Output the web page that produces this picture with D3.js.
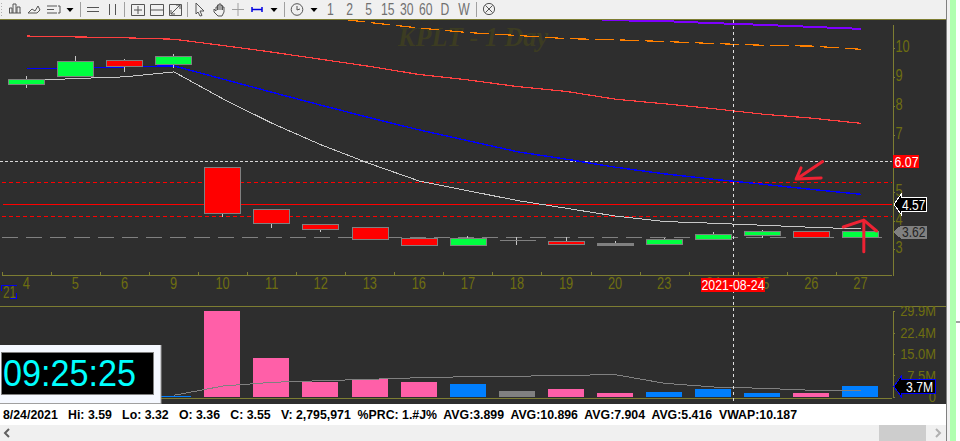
<!DOCTYPE html>
<html><head><meta charset="utf-8">
<script src="https://cdn.jsdelivr.net/npm/d3@7/dist/d3.min.js"></script>
<style>
html,body{margin:0;padding:0;background:#fff;overflow:hidden}
svg{display:block}
text{font-family:"Liberation Sans",Arial,sans-serif}
</style></head><body>
<svg id="c" width="960" height="441"></svg>
<script>
const categories=["4","5","6","9","10","11","12","13","16","17","18","19","20","23","24","25","26","27"];
const opens =[8.75,9.05,9.59,9.44,5.87,4.40,3.87,3.79,3.39,3.14,3.34,3.28,3.21,3.20,3.36,3.51,3.63,3.42];
const closes=[8.93,9.56,9.37,9.73,4.26,3.91,3.72,3.35,3.16,3.41,3.34,3.20,3.16,3.35,3.55,3.63,3.42,3.63];
const highs =[9.04,9.74,9.63,9.81,5.87,4.40,3.87,3.79,3.41,3.47,3.43,3.44,3.28,3.41,3.59,3.69,3.63,3.63];
const lows  =[8.63,9.05,9.19,9.33,4.14,3.76,3.62,3.35,3.12,3.14,3.15,3.20,3.12,3.20,3.32,3.41,3.42,3.42];
const candleKinds=["up","up","down","up","down","down","down","down","down","up","flat","down","flat","up","up","up","down","up"];
const maRed   =[10.43,10.40,10.37,10.32,10.10,9.87,9.62,9.37,9.09,8.90,8.67,8.50,8.23,8.07,7.90,7.71,7.57,7.39];
const maBlue  =[9.31,9.31,9.36,9.39,8.93,8.47,8.02,7.58,7.16,6.78,6.40,6.14,5.86,5.63,5.44,5.27,5.09,4.92];
const maWhite =[8.88,8.95,9.01,9.18,8.24,7.39,6.64,5.98,5.38,5.04,4.70,4.43,4.16,3.97,3.91,3.84,3.77,3.71];
const maOrangeCats=["12","13","16","17","18","19","20","23","24","25","26","27"];
const maOrange=[11.10,10.90,10.71,10.55,10.45,10.34,10.30,10.24,10.17,10.11,10.08,9.97];
const maPurpleCats=["19","20","23","24","25","26","27"];
const maPurple=[11.08,10.98,10.95,10.88,10.82,10.75,10.68];
const priceTicks=[10,9,8,7,5,4,3];
const volumes=[0.3,0.3,0.3,0.3,29.9,13.56,5.2,6.15,5.2,4.5,2.1,2.8,1.4,1.74,2.8,1.4,1.4,3.7];
const volKinds=["up","up","up","up","down","down","down","down","down","up","flat","down","down","up","up","up","down","up"];
const volMaCats=["9","10","11","12","13","16","17","18","19","20","23","24","25","26","27"];
const volMa=[0.6,3.82,5.11,5.67,6.15,6.71,7.06,7.2,7.55,7.75,4.76,3.48,3.03,2.33,2.33];
const volTicks=[0,7.5,15,22.4,29.9];
const volTickLabels=["0","7.5M","15.0M","22.4M","29.9M"];
const lineHigh=6.07, lineMid=4.57, bandUpper=5.34, bandLower=4.15, lineGray=3.42, lastPrice=3.62, lastVol=3.7;
const arrowOneShaft=[[16.22,6.06],[15.72,5.49]];
const arrowOneHead=[[15.78,5.84],[15.68,5.45],[16.19,5.49]];
const arrowTwoShaft=[[17.06,2.92],[17.06,3.99]];
const arrowTwoHead=[[16.64,3.78],[17.06,4.02],[17.32,3.64]];
const timeframes=["1","2","5","15","30","60","D","W"];
const statusText="8/24/2021   Hi: 3.59   Lo: 3.32   O: 3.36   C: 3.55   V: 2,795,971  %PRC: 1.#J%  AVG:3.899  AVG:10.896  AVG:7.904  AVG:5.416  VWAP:10.187";

const olive="#6e6e10", bg="#2e2e2e", axisCol="#7d7d32";
const svg=d3.select("#c");
const x=d3.scaleBand().domain(categories).range([2.3,885.4]);
const cx=c=>x(c)+x.bandwidth()/2;
const xi=d3.scaleLinear().domain([0,1]).range([cx(categories[0]),cx(categories[1])]);
const y=d3.scaleLinear().domain([2.09,10.85]).range([275.5,24]);
const yv=d3.scaleLinear().domain([0,29.9]).range([397,311]);

// backgrounds
const R=(x0,y0,w,h,f,p=svg)=>p.append("rect").attr("x",x0).attr("y",y0).attr("width",w).attr("height",h).attr("fill",f);
R(0,0,960,441,"#ffffff");
R(0,19,946,385,bg);
R(0,0,946,19,"#f0f0f0");
R(946,0,1,441,"#808080");
R(947,0,3,441,"#f0f0f0");
R(950,0,6,441,"#b0ffb0");
R(956,321,4,2,"#a0a0a0");
R(0,404,946,21,"#ffffff");
R(0,425,946,16,"#f0f0f0");
R(879,425,47,16,"#cdcdcd");
const H=(x0,x1,yy,c,w=1,dash=null,p=svg)=>p.append("line").attr("x1",x0).attr("x2",x1).attr("y1",yy).attr("y2",yy).attr("stroke",c).attr("stroke-width",w).attr("stroke-dasharray",dash).attr("shape-rendering","crispEdges");
H(0,946,19.5,axisCol);
H(0,946,306.5,axisCol);
H(0,892,398.5,axisCol);

// watermark
svg.append("text").attr("x",398).attr("y",45.5).attr("font-size",28).attr("font-weight","bold").attr("font-style","italic")
  .style("font-family","'Liberation Serif',serif").attr("fill","#3c3c22").attr("textLength",150).attr("lengthAdjust","spacingAndGlyphs").text("KPLT - 1 Day");

const clip=svg.append("clipPath").attr("id","pc").append("rect").attr("x",0).attr("y",20).attr("width",892).attr("height",256);
const plot=svg.append("g").attr("clip-path","url(#pc)");

// levels
H(0,892,y(lineHigh),"#d8d8d8",1,"3,2",plot);
H(2,892,y(bandUpper),"#ff0000",1,"4,3",plot);
H(2,892,y(bandLower),"#ff0000",1,"4,3",plot);
H(3,892,y(lineMid),"#ff0000",1,null,plot);
H(2,886,y(lineGray),"#808080",1,"16,8",plot);

// moving averages
const lineOf=(cats,vals,col,w,dash)=>plot.append("path").datum(vals.map((v,i)=>[cats[i],v]))
 .attr("fill","none").attr("stroke",col).attr("stroke-width",w).attr("stroke-dasharray",dash||null).attr("shape-rendering","crispEdges")
 .attr("d",d3.line().x(d=>cx(d[0])).y(d=>y(d[1])));
lineOf(categories,maRed,"#ff4040",1.2);
lineOf(categories,maBlue,"#0000ff",1.4);
lineOf(categories,maWhite,"#c8c8c8",1);
lineOf(maOrangeCats,maOrange,"#ff8000",1.2,"19,6");
lineOf(maPurpleCats,maPurple,"#7f00ff",2);

// candles
const candleFill={up:"#00ff40",down:"#ff0000",flat:"#808080"};
const g=plot.selectAll("g.c").data(categories).join("g").attr("class","c");
g.append("line").attr("x1",d=>Math.round(cx(d))-0.5).attr("x2",d=>Math.round(cx(d))-0.5)
 .attr("y1",(d,i)=>y(highs[i])).attr("y2",(d,i)=>y(lows[i])).attr("stroke","#c8c8c8").attr("shape-rendering","crispEdges");
g.append("path").attr("d",(d,i)=>{
   const l=Math.round(cx(d)-18.7)+0.5;
   const t=Math.round(y(Math.max(opens[i],closes[i])))+0.5;
   const b=Math.round(y(Math.min(opens[i],closes[i])))+0.5;
   return `M${l},${t}H${l+36}V${b}H${l}Z`;})
 .attr("fill",(d,i)=>candleFill[candleKinds[i]]).attr("stroke","#808080").attr("shape-rendering","crispEdges");

// arrows (hand drawn on the screenshot)
const scr=d3.line().x(d=>xi(d[0])).y(d=>y(d[1]));
[arrowOneShaft,arrowOneHead,arrowTwoShaft,arrowTwoHead].forEach(a=>svg.append("path").attr("d",scr(a))
  .attr("fill","none").attr("stroke","#ee2233").attr("stroke-width",3).attr("stroke-linecap","round").attr("stroke-linejoin","round"));

// axes
const squeeze=(sel,k)=>sel.each(function(){const n=this.getComputedTextLength();this.setAttribute("textLength",n*k);this.setAttribute("lengthAdjust","spacingAndGlyphs");});
const yAxis=svg.append("g").attr("transform","translate(892.5,0)").call(d3.axisRight(y).tickValues(priceTicks).tickSize(2).tickSizeOuter(0).tickPadding(1).tickFormat(d3.format("d")));
yAxis.selectAll("path,line").attr("stroke",axisCol).attr("shape-rendering","crispEdges");
yAxis.selectAll("text").attr("fill",olive).attr("font-size",16).attr("dy","0.22em").style("font-family","'Liberation Sans'").call(squeeze,0.8);

const xAxis=svg.append("g").attr("transform","translate(0,275.5)").call(d3.axisBottom(x).tickSize(0).tickPadding(2));
xAxis.select("path").remove();
xAxis.selectAll("text").attr("fill",olive).attr("font-size",16).attr("dy","0.74em").attr("x",-0.5).style("font-family","'Liberation Sans'").call(squeeze,0.8);
H(2,892,275.5,axisCol);
svg.append("g").selectAll("line").data(categories).join("line").attr("x1",d=>x(d)).attr("x2",d=>x(d)).attr("y1",271.5).attr("y2",275.5).attr("stroke",axisCol).attr("shape-rendering","crispEdges");

// volume
const volFill={up:"#007fff",down:"#ff5fa8",flat:"#808080"};
svg.append("g").selectAll("rect").data(categories).join("rect").attr("x",d=>Math.round(cx(d)-18.7)).attr("width",36)
  .attr("y",(d,i)=>yv(volumes[i])).attr("height",(d,i)=>yv(0)-yv(volumes[i])).attr("fill",(d,i)=>volFill[volKinds[i]]).attr("shape-rendering","crispEdges");
svg.append("path").datum(volMa.map((v,i)=>[volMaCats[i],v])).attr("fill","none").attr("stroke","#808080").attr("shape-rendering","crispEdges")
  .attr("d",d3.line().x(d=>cx(d[0])).y(d=>yv(d[1])));
const vAxis=svg.append("g").attr("transform","translate(892.5,0)").call(d3.axisRight(yv).tickValues(volTicks).tickSize(2).tickSizeOuter(0).tickFormat((d,i)=>volTickLabels[i]));
vAxis.selectAll("path,line").attr("stroke",axisCol).attr("shape-rendering","crispEdges");
vAxis.selectAll("text").attr("fill",olive).attr("font-size",15).attr("text-anchor","end").attr("x",43.5).attr("dy","0.33em").style("font-family","'Liberation Sans'").call(squeeze,0.86);

// crosshair
const crossX=Math.round(cx("24")+x.step()*0.4)+0.5;
svg.append("line").attr("x1",crossX).attr("x2",crossX).attr("y1",20).attr("y2",404).attr("stroke","#e0e0e0").attr("stroke-dasharray","3,3").attr("shape-rendering","crispEdges");
R(701,278,64,14,"#ff0000");
svg.append("text").attr("x",733).attr("y",290).attr("text-anchor","middle").attr("fill","#fff").attr("font-size",15).attr("textLength",63).attr("lengthAdjust","spacingAndGlyphs").text("2021-08-24");

// "21" year tag
svg.append("text").attr("x",3).attr("y",298).attr("fill",olive).attr("font-size",16).attr("textLength",13).attr("lengthAdjust","spacingAndGlyphs").text("21");
svg.append("path").attr("d","M1.5,291V285.5H16.5M16.5,293V298.5H10").attr("fill","none").attr("stroke","#0000f0").attr("shape-rendering","crispEdges");

// price tags
const tag=(cy,x1,halfBox,flare,fill,stroke,txtCol,label,tx,tw)=>{
 const x0=894,xb=901;
 svg.append("path").attr("d",`M${x0},${cy}L${xb},${cy-flare}V${cy-halfBox}H${x1}V${cy+halfBox}H${xb}V${cy+flare}Z`).attr("fill",fill).attr("stroke",stroke).attr("shape-rendering","crispEdges");
 svg.append("text").attr("x",tx).attr("y",cy+5.3).attr("fill",txtCol).attr("font-size",15).attr("textLength",tw).attr("lengthAdjust","spacingAndGlyphs").text(label);
};
R(893,155,26,13,"#ff0000");
svg.append("text").attr("x",894.5).attr("y",166.7).attr("fill","#fff").attr("font-size",15).attr("textLength",24).attr("lengthAdjust","spacingAndGlyphs").text(d3.format(".2f")(lineHigh));
tag(y(lineMid),926.5,7,10,"#000","#fff","#fff",d3.format(".2f")(lineMid),902,23.5);
tag(Math.round(y(lastPrice)),926.5,6,6,"#808080","#808080","#222",d3.format(".2f")(lastPrice),902,23.5);
tag(Math.round(yv(lastVol))+.5,935,7,10,"#000","#0000ff","#fff",lastVol+"M",906,27);

// clock
R(0,345,161,58,"#f5f8ff");
H(0,161,403.5,"#a0a0a0");
svg.append("line").attr("x1",161).attr("x2",161).attr("y1",345).attr("y2",404).attr("stroke","#a0a0a0");
R(1.5,352.5,152,42,"#000").attr("stroke","#808080");
svg.append("text").attr("x",3).attr("y",386).attr("fill","#00ffff").attr("font-size",36).attr("textLength",133).attr("lengthAdjust","spacingAndGlyphs").text("09:25:25");

// status bar
svg.append("text").attr("x",3).attr("y",419).attr("fill","#000").attr("font-size",12.5).attr("font-weight","bold").attr("xml:space","preserve").style("white-space","pre")
 .attr("textLength",794).attr("lengthAdjust","spacingAndGlyphs").text(statusText);

// scrollbar arrows
svg.append("path").attr("d","M9,429L5,433L9,437").attr("fill","none").attr("stroke","#606060").attr("stroke-width",2);
svg.append("path").attr("d","M936,429L940,433L936,437").attr("fill","none").attr("stroke","#b0b0b0").attr("stroke-width",2);

// toolbar
const tb=svg.append("g").attr("fill","none").attr("stroke","#555").attr("stroke-width",1);
[80.5,124.5,187.5,284.5,476.5].forEach(sx=>tb.append("line").attr("x1",sx).attr("x2",sx).attr("y1",2).attr("y2",17).attr("stroke","#a0a0a0"));
tb.append("path").attr("d","M1.5,3V4M1.5,6V7M1.5,9V10M1.5,12V13M1.5,15V16").attr("stroke","#b0b0b0");
const icon=d=>tb.append("path").attr("d",d);
icon("M9.5,13V8H12V13M13,13V4H16V13M17,13V7H20V13M9,13H21");
icon("M28,13L32,9L35,11L38,6L40,10L37,13Z");
icon("M47,6H57M47,9.5H54M47,13H57M58,6H60V13H58");
icon("M87,7.5H99M87,11.5H99");
icon("M109.5,4V15M115.5,4V15");
icon("M131.5,4.5H144.5V15.5H131.5ZM138,6V14M134,10H142");
icon("M150.5,4.5H163.5V15.5H150.5ZM150.5,10H154M160,10H163.5M154,10H160");
icon("M169.5,4.5H181.5V15.5H169.5ZM171,14L180,5M176,5H180V9M171,10V14H175");
icon("M196,3L204,11L200,11L202,15.5L200,16L198,12L196,14Z");
icon("M214,9V12L218,16H222L224,12V7H222.5V10M222.5,8V5.5H221V10M221,6V4H219V10M219,5H217.5V10M217.5,7H216V11L214,9");
tb.append("path").attr("d","M238,3V16M232,9.5H244").attr("stroke","#a0a0a0");
tb.append("path").attr("d","M252,7V12M262,7V12M252,9.5H262").attr("stroke","#0000e0").attr("stroke-width",1.5);
tb.append("circle").attr("cx",297).attr("cy",9.5).attr("r",5.8);
icon("M297,6V10L300,9");
tb.append("circle").attr("cx",489).attr("cy",9).attr("r",5.6);
icon("M485.5,5.5L492.5,12.5M492.5,5.5L485.5,12.5");
[[70,8],[274,8],[314,8]].forEach(p=>svg.append("path").attr("d",d3.line()([[p[0]-3.5,p[1]],[p[0]+3.5,p[1]],[p[0],p[1]+4]])).attr("fill","#000"));
const tfScale=d3.scalePoint().domain(timeframes).range([330.5,464]);
svg.append("g").selectAll("text").data(timeframes).join("text").attr("x",d=>tfScale(d)).attr("y",15.3).attr("text-anchor","middle")
 .attr("fill","#707070").attr("font-size",16).style("font-family","'Liberation Sans'").text(d=>d).call(squeeze,0.76);
</script></body></html>
